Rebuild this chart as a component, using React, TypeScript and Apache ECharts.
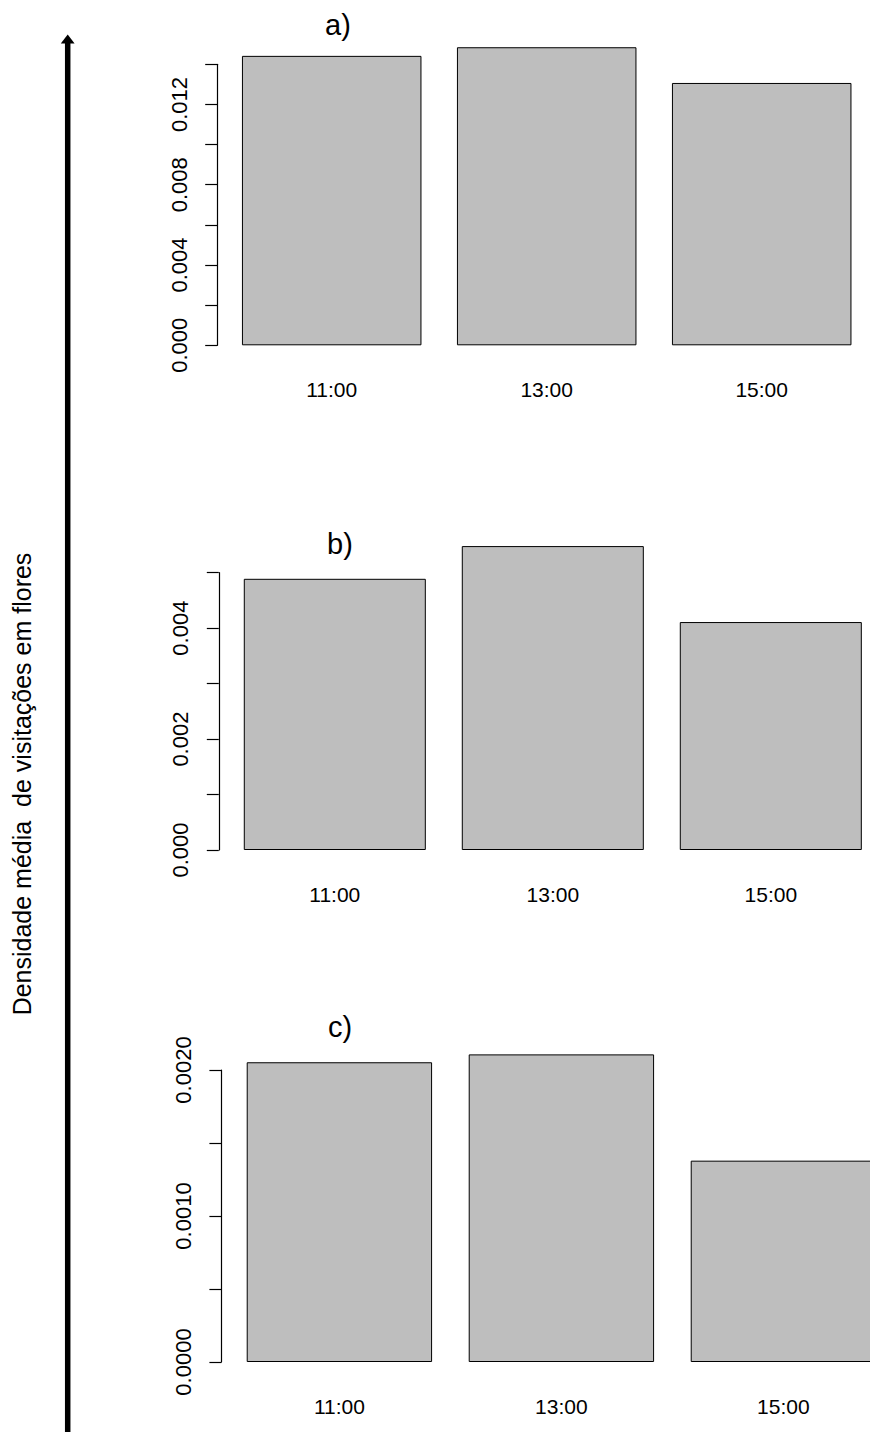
import React, { useEffect, useRef } from "react";
import * as echarts from "echarts";

// Sampling hours shared by the three panels
const hours = ["11:00", "13:00", "15:00"];

// Mean visit density on flowers per hour, one array per panel
const densityA = [0.01442, 0.01485, 0.01307];
const densityB = [0.00489, 0.00548, 0.00411];
const densityC = [0.002053, 0.002107, 0.001379];

const panelTitles = ["a)", "b)", "c)"];
const yMaxes = [0.014, 0.005, 0.002];
const yIntervals = [0.002, 0.001, 0.0005];
const yDecimals = [3, 3, 4];

const axisTitle = "Densidade média  de visitações em flores";

// Panel geometry in page pixels (the drawing surface is wider than the
// visible page so the right-hand panels can run past the edge)
const panelLayout = [
  { left: 224.2, top: 64.3, width: 645, height: 281, titleX: 338, titleY: 25 },
  { left: 225.8, top: 572.7, width: 654, height: 277.3, titleX: 340, titleY: 544 },
  { left: 228.4, top: 1070, width: 666, height: 292, titleX: 340, titleY: 1027 },
];

const FONT = "'Liberation Sans', Arial, Helvetica, sans-serif";
const PAGE_W = 870;
const PAGE_H = 1432;
const SURFACE_W = 940;

export default function App() {
  const ref = useRef<HTMLDivElement>(null);

  useEffect(() => {
    if (!ref.current) return;
    const chart = echarts.init(ref.current, null, { renderer: "svg" });
    const series = [densityA, densityB, densityC];

    const grids = panelLayout.map((p) => ({
      left: p.left,
      top: p.top,
      width: p.width,
      height: p.height,
      containLabel: false,
    }));

    const xAxes = panelLayout.map((_, i) => ({
      type: "category" as const,
      gridIndex: i,
      data: hours,
      axisLine: { show: false },
      axisTick: { show: false },
      axisLabel: {
        interval: 0,
        margin: 34,
        fontSize: 21,
        color: "#000",
        fontFamily: FONT,
      },
    }));

    const yAxes = panelLayout.map((_, i) => ({
      type: "value" as const,
      gridIndex: i,
      min: 0,
      max: yMaxes[i],
      interval: yIntervals[i],
      offset: 7,
      axisLine: { show: true, lineStyle: { color: "#000", width: 1.2 } },
      axisTick: { show: true, length: 12, inside: false, lineStyle: { color: "#000", width: 1.2 } },
      splitLine: { show: false },
      axisLabel: {
        rotate: 90,
        margin: 27,
        fontSize: 22,
        color: "#000",
        fontFamily: FONT,
        showMaxLabel: true,
        formatter: (v: number, idx: number) =>
          idx % 2 === 0 ? v.toFixed(yDecimals[i]) : "",
      },
    }));

    const barSeries = series.map((data, i) => ({
      type: "bar" as const,
      xAxisIndex: i,
      yAxisIndex: i,
      data,
      clip: false,
      barCategoryGap: "16.5%",
      itemStyle: { color: "#BEBEBE", borderColor: "#000", borderWidth: 1 },
      emphasis: { disabled: true },
    }));

    const graphics: any[] = [
      // vertical axis arrow on the far left
      {
        type: "line",
        shape: { x1: 67.7, y1: 1440, x2: 67.7, y2: 41 },
        style: { stroke: "#000", lineWidth: 5.5 },
      },
      {
        type: "polygon",
        shape: { points: [[67.7, 34.5], [60.8, 43.5], [74.6, 43.5]] },
        style: { fill: "#000" },
      },
      {
        type: "text",
        x: 22,
        y: 784,
        rotation: Math.PI / 2,
        style: {
          text: axisTitle,
          font: `25px ${FONT}`,
          fill: "#000",
          textAlign: "center",
          textVerticalAlign: "middle",
        },
      },
      ...panelLayout.map((p, i) => ({
        type: "text",
        x: p.titleX,
        y: p.titleY,
        style: {
          text: panelTitles[i],
          font: `29px ${FONT}`,
          fill: "#000",
          textAlign: "center",
          textVerticalAlign: "middle",
        },
      })),
    ];

    chart.setOption({
      animation: false,
      backgroundColor: "#fff",
      grid: grids,
      xAxis: xAxes,
      yAxis: yAxes,
      series: barSeries,
      graphic: graphics,
    });

    return () => chart.dispose();
  }, []);

  return (
    <div
      style={{
        position: "absolute",
        left: 0,
        top: 0,
        width: PAGE_W,
        height: PAGE_H,
        overflow: "hidden",
        background: "#fff",
      }}
    >
      <div ref={ref} style={{ width: SURFACE_W, height: PAGE_H }} />
    </div>
  );
}
